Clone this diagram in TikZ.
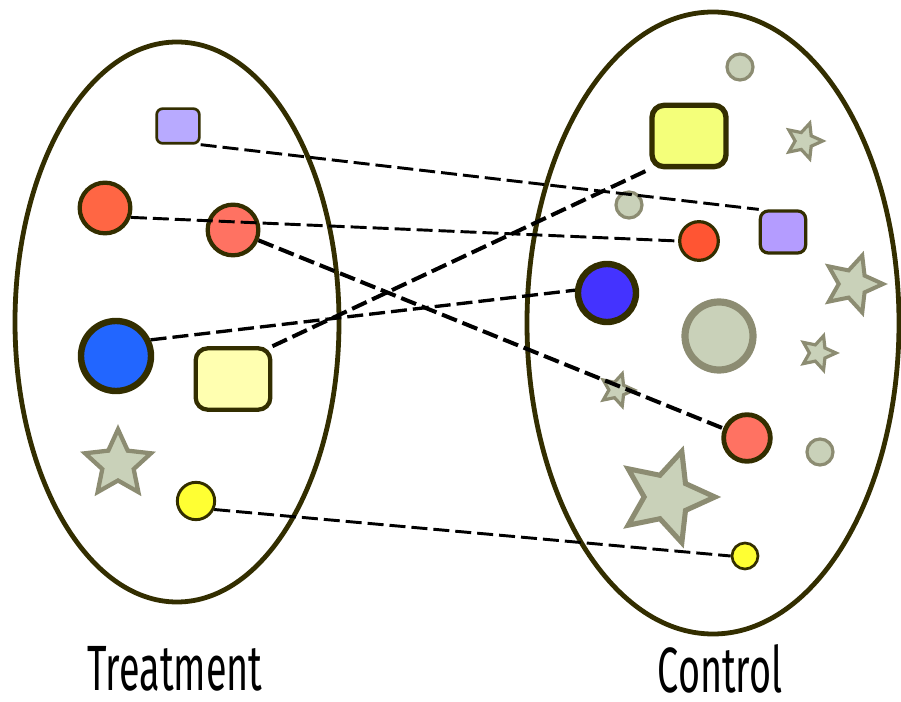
\documentclass[tikz,border=0pt]{standalone}
\usepackage{fontspec}
\newfontfamily\labelfont[FakeStretch=0.59]{Fira Sans}
\usetikzlibrary{shapes.geometric}
\definecolor{rim}{HTML}{332E00}
\definecolor{sage}{HTML}{C9D1B9}
\definecolor{sagerim}{HTML}{8C8C72}
\definecolor{lilac}{HTML}{B8AAFF}
\definecolor{lilacB}{HTML}{B49CFF}
\definecolor{tomato}{HTML}{FF6644}
\definecolor{salmon}{HTML}{FF7262}
\definecolor{redB}{HTML}{FF5533}
\definecolor{blueA}{HTML}{2266FF}
\definecolor{blueB}{HTML}{4433FF}
\definecolor{creamA}{HTML}{FFFFB0}
\definecolor{creamB}{HTML}{F4FF7A}
\definecolor{lemon}{HTML}{FFFF33}

\begin{document}
\begin{tikzpicture}[x=0.75pt,y=-0.75pt,
	unit/.style={draw=rim,inner sep=0pt},
	ball/.style={unit,circle,minimum size=#1},
	box/.style={unit,rectangle,rounded corners=#1},
	other/.style={fill=sage,draw=sagerim,inner sep=0pt},
	gdot/.style={other,circle,line width=2.4pt,minimum size=19.5pt},
	gstar/.style={other,star,star points=5,star point ratio=2.1,line width=2.4pt,minimum size=#1},
	link/.style={dash pattern=on 12pt off 4.5pt,line width=2.2pt},
	thick link/.style={link,line width=3pt},
	title/.style={inner sep=0pt,font=\labelfont\fontsize{48}{56}\selectfont}]
	\useasboundingbox (0,0) rectangle (901,702);
	% the two groups
	\draw[rim,line width=3.6pt] (177,322) ellipse [x radius=121.5pt,y radius=210pt];
	\draw[rim,line width=3.6pt] (713,323) ellipse [x radius=139.5pt,y radius=233.25pt];
	% treatment
	\node[box=4.5pt,fill=lilac,line width=2pt,minimum width=32pt,minimum height=26pt] (tPurple) at (178,126) {};
	\node[ball=38pt,fill=tomato,line width=3.2pt] (tRed) at (105,208) {};
	\node[ball=38pt,fill=salmon,line width=3.2pt] (tSalmon) at (233,230) {};
	\node[ball=52.5pt,fill=blueA,line width=4.8pt] (tBlue) at (116,356) {};
	\node[box=9pt,fill=creamA,line width=3.2pt,minimum width=56pt,minimum height=46pt] (tYellow) at (233,379) {};
	\node[gstar=52pt,line width=3.2pt] (tStar) at (118,464) {};
	\node[ball=28pt,fill=lemon,line width=2.2pt] (tLemon) at (196,501) {};
	% control
	\node[gdot] (cGrayA) at (740,67) {};
	\node[box=9pt,fill=creamB,line width=4pt,minimum width=55.5pt,minimum height=46pt] (cYellow) at (689,136) {};
	\node[gstar=28pt,rotate=-18] (cStarA) at (804,141) {};
	\node[gdot] (cGrayB) at (629,205) {};
	\node[ball=29pt,fill=redB,line width=2.4pt] (cRed) at (699,241) {};
	\node[box=6pt,fill=lilacB,line width=2.4pt,minimum width=34pt,minimum height=31.5pt] (cPurple) at (783,232) {};
	\node[gstar=45pt,rotate=-18,line width=3pt] (cStarB) at (853,284) {};
	\node[ball=43.5pt,fill=blueB,line width=4.8pt] (cBlue) at (607,293) {};
	\node[other,circle,minimum size=51pt,line width=5.4pt] (cGrayBig) at (719,336) {};
	\node[gstar=27pt,rotate=-18] (cStarC) at (818,353) {};
	\node[gstar=25.5pt,rotate=-18] (cStarD) at (617,390) {};
	\node[ball=35pt,fill=salmon,line width=3.6pt] (cSalmon) at (747,438) {};
	\node[gdot] (cGrayC) at (820,452) {};
	\node[gstar=72pt,rotate=-18,line width=3.8pt] (cStarBig) at (667,497) {};
	\node[ball=19.5pt,fill=lemon,line width=2pt] (cLemon) at (745,556) {};
	% matches
	\draw[link] (tPurple.south east) -- (cPurple.north west);
	\draw[link] (tRed.-20) -- (cRed.west);
	\draw[thick link] (tSalmon) -- (cSalmon);
	\draw[link,line width=2.5pt] (tBlue.25) -- (cBlue.175);
	\draw[thick link] (tYellow.north east) -- (cYellow.south west);
	\draw[link] (tLemon.-25) -- (cLemon.west);
	% labels
	\node[title] (treat) at (175,669) {Treatment};
	\node[title] (ctrl) at (720,669) {Control};
\end{tikzpicture}
\end{document}
